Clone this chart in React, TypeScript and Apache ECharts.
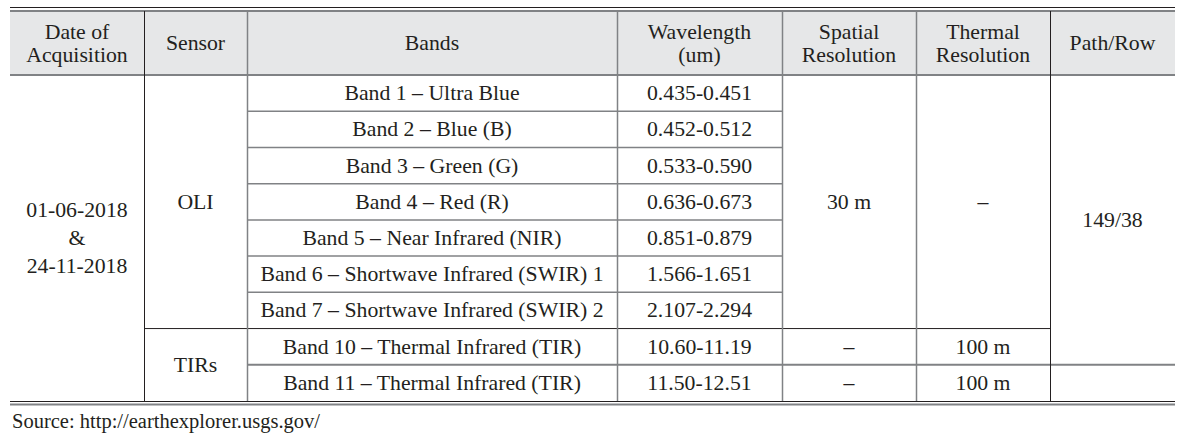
import React, { useEffect, useRef } from "react";
import * as echarts from "echarts";

// ---- table content ----
const headers: string[] = [
  "Date of\nAcquisition",
  "Sensor",
  "Bands",
  "Wavelength\n(um)",
  "Spatial\nResolution",
  "Thermal\nResolution",
  "Path/Row",
];
const bands: string[] = [
  "Band 1 – Ultra Blue",
  "Band 2 – Blue (B)",
  "Band 3 – Green (G)",
  "Band 4 – Red (R)",
  "Band 5 – Near Infrared (NIR)",
  "Band 6 – Shortwave Infrared (SWIR) 1",
  "Band 7 – Shortwave Infrared (SWIR) 2",
  "Band 10 – Thermal Infrared (TIR)",
  "Band 11 – Thermal Infrared (TIR)",
];
const wavelengths: string[] = [
  "0.435-0.451",
  "0.452-0.512",
  "0.533-0.590",
  "0.636-0.673",
  "0.851-0.879",
  "1.566-1.651",
  "2.107-2.294",
  "10.60-11.19",
  "11.50-12.51",
];
const dates: string = "01-06-2018\n&\n24-11-2018";
const sensors: { name: string; from: number; to: number }[] = [
  { name: "OLI", from: 0, to: 6 },
  { name: "TIRs", from: 7, to: 8 },
];
const spatialCells: { text: string; from: number; to: number }[] = [
  { text: "30 m", from: 0, to: 6 },
  { text: "–", from: 7, to: 7 },
  { text: "–", from: 8, to: 8 },
];
const thermalCells: { text: string; from: number; to: number }[] = [
  { text: "–", from: 0, to: 6 },
  { text: "100 m", from: 7, to: 7 },
  { text: "100 m", from: 8, to: 8 },
];
const pathRowCells: { text: string; from: number; to: number }[] = [
  { text: "149/38", from: 0, to: 7 },
  { text: "", from: 8, to: 8 },
];
const sourceNote = "Source: http://earthexplorer.usgs.gov/";

// ---- layout ----
const COLS = [10, 144, 247, 617, 782, 916, 1050, 1175];
const TOP_RULE = 7;
const HEAD_TOP = 11;
const HEAD_BOTTOM = 75;
const BODY_BOTTOM = 401;
const NROWS = bands.length;
const ROW_H = (BODY_BOTTOM - HEAD_BOTTOM) / NROWS;
const rowY = (i: number) => HEAD_BOTTOM + i * ROW_H;

const TEXT = "#231f20";
const DARK = "#231f20";
const GRAY = "#808285";
const HEAD_BG = "#e6e7e8";
const FONT = "21.75px 'Liberation Serif', 'Times New Roman', serif";
const SRC_FONT = "20.5px 'Liberation Serif', 'Times New Roman', serif";
const LH = 23;

function buildGraphics() {
  const els: any[] = [];
  const txt = (text: string, x: number, y: number, align = "center", lh = LH, font = FONT) => ({
    type: "text",
    style: {
      text,
      x,
      y,
      fill: TEXT,
      font,
      lineHeight: lh,
      textAlign: align,
      textVerticalAlign: "middle",
    },
  });
  const line = (x1: number, y1: number, x2: number, y2: number, stroke: string, w: number) => ({
    type: "line",
    shape: { x1, y1, x2, y2 },
    style: { stroke, lineWidth: w },
  });
  const cx = (c: number) => (COLS[c] + COLS[c + 1]) / 2;
  const cy = (from: number, to: number) => (rowY(from) + rowY(to + 1)) / 2;

  // header background
  els.push({
    type: "rect",
    shape: { x: COLS[0], y: HEAD_TOP, width: COLS[7] - COLS[0], height: HEAD_BOTTOM - HEAD_TOP },
    style: { fill: HEAD_BG },
  });

  // horizontal rules
  els.push(line(COLS[0], TOP_RULE + 0.5, COLS[7], TOP_RULE + 0.5, DARK, 1));
  els.push(line(COLS[0], HEAD_TOP, COLS[7], HEAD_TOP, GRAY, 2));
  els.push(line(COLS[0], HEAD_BOTTOM, COLS[7], HEAD_BOTTOM, GRAY, 2));
  // band rows (bands + wavelength columns)
  for (let i = 1; i < 7; i++) {
    const y = rowY(i);
    els.push(line(COLS[2], y, COLS[4], y, GRAY, 1.5));
  }
  // row between OLI and TIRs
  els.push(line(COLS[1], rowY(7), COLS[6], rowY(7), DARK, 1));
  // row between band 10 and band 11
  els.push(line(COLS[2], rowY(8), COLS[7], rowY(8), GRAY, 2));
  // bottom rules
  els.push(line(COLS[0], BODY_BOTTOM + 0.5, COLS[7], BODY_BOTTOM + 0.5, DARK, 1));
  els.push(line(COLS[0], BODY_BOTTOM + 3.5, COLS[7], BODY_BOTTOM + 3.5, GRAY, 2));

  // vertical rules
  for (let c = 1; c < COLS.length - 1; c++) {
    const dark = c === 1 || c === 6;
    els.push(line(COLS[c] + 0.5, HEAD_TOP, COLS[c] + 0.5, BODY_BOTTOM, dark ? DARK : GRAY, dark ? 1 : 1.5));
  }

  // header texts
  const headMid = (HEAD_TOP + HEAD_BOTTOM) / 2;
  headers.forEach((h, c) => els.push(txt(h, cx(c), headMid)));

  // body texts
  els.push(txt(dates, cx(0), cy(0, NROWS - 1), "center", 28));
  sensors.forEach((s) => els.push(txt(s.name, cx(1), cy(s.from, s.to))));
  bands.forEach((b, i) => els.push(txt(b, cx(2), cy(i, i))));
  wavelengths.forEach((w, i) => els.push(txt(w, cx(3), cy(i, i))));
  spatialCells.forEach((s) => els.push(txt(s.text, cx(4), cy(s.from, s.to))));
  thermalCells.forEach((s) => els.push(txt(s.text, cx(5), cy(s.from, s.to))));
  pathRowCells.forEach((s) => s.text && els.push(txt(s.text, cx(6), cy(s.from, s.to))));

  // source note
  els.push(txt(sourceNote, 12, 421, "left", LH, SRC_FONT));
  return els;
}

export default function App() {
  const ref = useRef<HTMLDivElement>(null);
  useEffect(() => {
    if (!ref.current) return;
    const chart = echarts.init(ref.current, undefined, { renderer: "svg" });
    chart.setOption({
      animation: false,
      backgroundColor: "#ffffff",
      graphic: { elements: buildGraphics() },
    });
    return () => chart.dispose();
  }, []);
  return (
    <div
      ref={ref}
      style={{ position: "fixed", left: 0, top: 0, width: 1195, height: 448, background: "#fff" }}
    />
  );
}
